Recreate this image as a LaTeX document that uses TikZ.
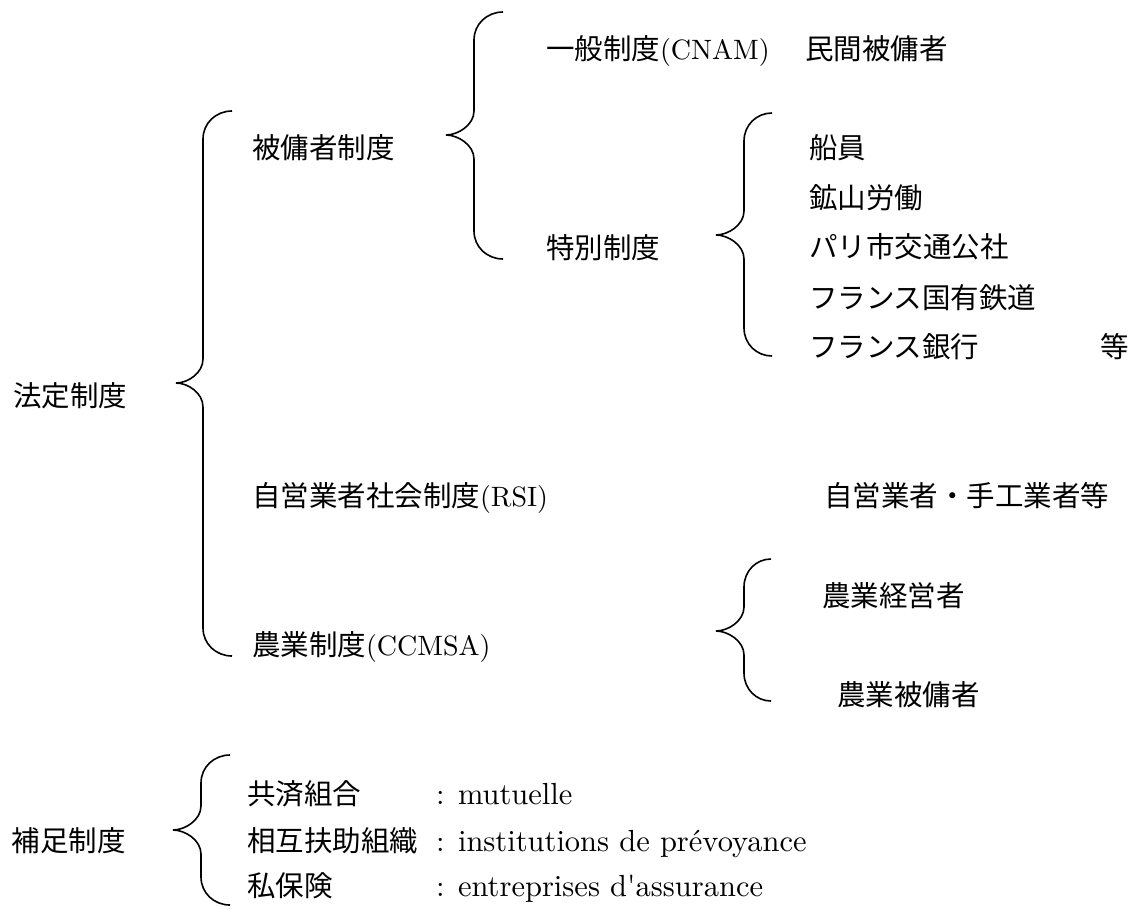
\documentclass[tikz,border=0pt]{standalone}
\usepackage{fontspec}
\newfontfamily\jp{Noto Sans CJK JP}
\newfontfamily\lmr{lmroman10-regular.otf}
\newcommand{\Brace}[6]{% xe, xs, xt, ytop, ytip, ybot
  \draw[bracestyle] (#1,#4) .. controls ({#2+0.45*(#1-#2)},#4) and (#2,{#4+12}) .. (#2,{#4+28})
    -- (#2,{#5-24})
    .. controls (#2,{#5-10}) and ({#3+12},#5) .. (#3,#5)
    .. controls ({#3+12},#5) and (#2,{#5+10}) .. (#2,{#5+24})
    -- (#2,{#6-28})
    .. controls (#2,{#6-12}) and ({#2+0.45*(#1-#2)},#6) .. (#1,#6);
}
\tikzset{
  bracestyle/.style={line width=1.6pt, black},
  jt/.style={anchor=base west, inner sep=0pt, outer sep=0pt, font=\jp\fontsize{28.5}{32}\selectfont},
  lt/.style={anchor=base west, inner sep=0pt, outer sep=0pt, font=\lmr\fontsize{30.5}{32}\selectfont},
}
\newcommand{\la}[1]{{\lmr\fontsize{28}{32}\selectfont #1}}
\begin{document}
\begin{tikzpicture}[x=1pt, y=-1pt]
\useasboundingbox[fill=white] (0,0) rectangle (1129,908);
% braces
\Brace{503}{474}{446}{12}{135}{259}
\Brace{772}{744}{716}{113}{235}{356}
\Brace{232}{203}{176}{111}{383}{656}
\Brace{771}{744}{716}{559}{631}{701}
\Brace{230}{201}{173}{755}{830}{905}
% texts
\node[jt] (ippan) at (546,59) {一般制度\la{(CNAM)}};
\node[jt] (minkan) at (805,59) {民間被傭者};
\node[jt] (hiyou) at (252,158) {被傭者制度};
\node[jt] (tokubetsu) at (546,258) {特別制度};
\node[jt] (senin) at (809,158) {船員};
\node[jt] (kouzan) at (809,208) {鉱山労働};
\node[jt] (pari) at (809,257) {パリ市交通公社};
\node[jt] (tetsudo) at (809,308) {フランス国有鉄道};
\node[jt] (ginko) at (809,357) {フランス銀行};
\node[jt] (tou) at (1100,357) {等};
\node[jt] (houtei) at (13,406) {法定制度};
\node[jt] (rsi) at (252,506) {自営業者社会制度\la{(RSI)}};
\node[jt] (jiei) at (824,506) {自営業者・手工業者等};
\node[jt] (keiei) at (822,606) {農業経営者};
\node[jt] (nogyohi) at (837,705) {農業被傭者};
\node[jt] (ccmsa) at (252,655) {農業制度\la{(CCMSA)}};
\node[jt] (hosoku) at (12,851) {補足制度};
\node[jt] (kyosai) at (247,804) {共済組合};
\node[jt] (sogo) at (247,851) {相互扶助組織};
\node[jt] (shiho) at (247,896) {私保険};
\node[lt] (mut) at (436,804) {: mutuelle};
\node[lt] (inst) at (436,851) {: institutions de prévoyance};
\node[lt] (entr) at (436,896) {: entreprises d'assurance};
\end{tikzpicture}
\end{document}
